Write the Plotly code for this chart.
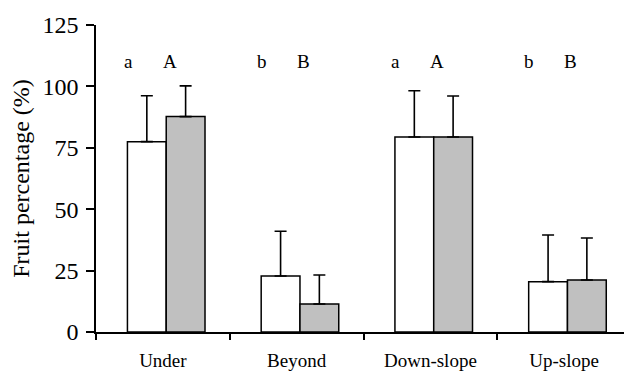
import plotly.graph_objects as go

categories = ["Under", "Beyond", "Down-slope", "Up-slope"]
white_vals = [77.5, 22.8, 79.4, 20.5]
white_err = [18.7, 18.2, 18.8, 19.0]
gray_vals = [87.7, 11.4, 79.4, 21.2]
gray_err = [12.5, 11.8, 16.7, 17.1]
lower_letters = ["a", "b", "a", "b"]
upper_letters = ["A", "B", "A", "B"]
y_ticks = [0, 25, 50, 75, 100, 125]

FONT = "Liberation Serif"
BAR_W = 0.29

fig = go.Figure()
fig.add_trace(go.Bar(
    x=categories, y=white_vals, name="white", width=BAR_W, offset=-0.265,
    marker=dict(color="white", line=dict(color="black", width=1.5)),
    error_y=dict(type="data", array=white_err, arrayminus=[0]*4, symmetric=False,
                 color="black", thickness=1.6, width=6),
))
fig.add_trace(go.Bar(
    x=categories, y=gray_vals, name="gray", width=BAR_W, offset=0.025,
    marker=dict(color="#c0c0c0", line=dict(color="black", width=1.5)),
    error_y=dict(type="data", array=gray_err, arrayminus=[0]*4, symmetric=False,
                 color="black", thickness=1.6, width=6),
))

for i in range(len(categories)):
    fig.add_annotation(x=i - 0.26, y=110, text=lower_letters[i], showarrow=False,
                       xref="x", yref="y", font=dict(family=FONT, size=19, color="black"))
    fig.add_annotation(x=i + 0.05, y=110, text=upper_letters[i], showarrow=False,
                       xref="x", yref="y", font=dict(family=FONT, size=19, color="black"))

# The page body adds an 8px offset, so the figure is sized to fit the window.
fig.update_layout(
    width=624, height=364,
    margin=dict(l=88, r=1, t=17, b=40),
    plot_bgcolor="white", paper_bgcolor="white",
    showlegend=False,
    barmode="overlay",
    font=dict(family=FONT, color="black"),
)
fig.update_xaxes(
    range=[-0.5, 3.5], showline=True, linecolor="black", linewidth=1.5,
    ticks="outside", tickson="boundaries", ticklen=6, tickcolor="black", tickwidth=1.5,
    tickfont=dict(family=FONT, size=19), ticklabelstandoff=10, automargin=False,
    showgrid=False, zeroline=False,
)
fig.update_yaxes(
    range=[0, 125], tickvals=y_ticks, showline=True, linecolor="black", linewidth=1.5,
    ticks="outside", ticklen=8, tickcolor="black", tickwidth=1.5,
    tickfont=dict(family=FONT, size=24), ticklabelstandoff=3, automargin=False,
    showgrid=False, zeroline=False,
    title=dict(text="Fruit percentage (%)", font=dict(family=FONT, size=24), standoff=14),
)

fig.write_html("out.html")
